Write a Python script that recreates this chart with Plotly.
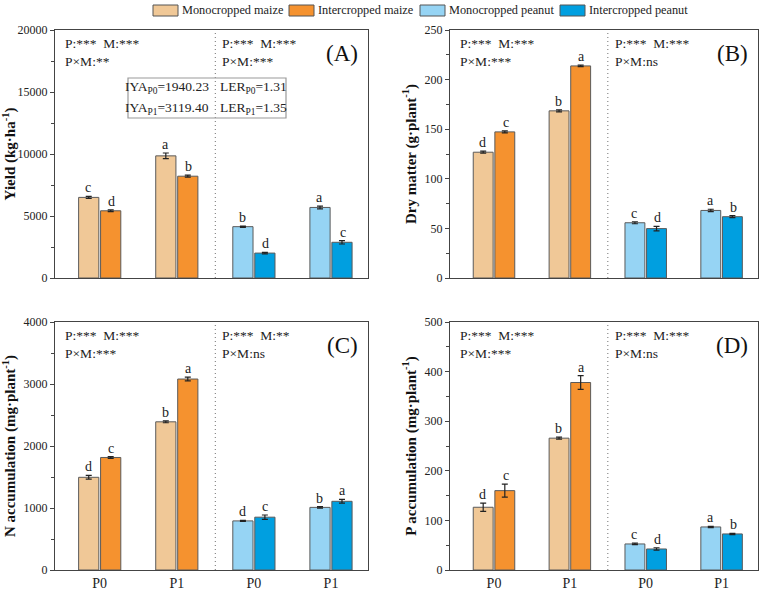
import plotly.graph_objects as go

# ---------------- data ----------------
series_names = ["Monocropped maize", "Intercropped maize", "Monocropped peanut", "Intercropped peanut"]
series_colors = ["#F0C897", "#F5922F", "#96D4F4", "#009FE0"]
tick_labels = ["P0", "P1", "P0", "P1"]
maize_x = [0, 1]
peanut_x = [2, 3]

# Panel A: Yield
yield_mono_maize = [6500, 9850]
yield_inter_maize = [5420, 8210]
yield_mono_peanut = [4140, 5690]
yield_inter_peanut = [2010, 2880]
yield_err = [[90, 230], [70, 80], [50, 110], [60, 140]]
yield_letters = [["c", "a"], ["d", "b"], ["b", "a"], ["d", "c"]]

# Panel B: Dry matter
dm_mono_maize = [126.8, 168.5]
dm_inter_maize = [147.3, 213.8]
dm_mono_peanut = [55.7, 68.1]
dm_inter_peanut = [49.8, 61.8]
dm_err = [[1.0, 1.0], [1.0, 0.8], [1.0, 1.2], [2.2, 1.0]]
dm_letters = [["d", "b"], ["c", "a"], ["c", "a"], ["d", "b"]]

# Panel C: N accumulation
n_mono_maize = [1495, 2390]
n_inter_maize = [1815, 3080]
n_mono_peanut = [792, 1010]
n_inter_peanut = [852, 1108]
n_err = [[30, 15], [15, 30], [10, 12], [35, 30]]
n_letters = [["d", "b"], ["c", "a"], ["d", "b"], ["c", "a"]]

# Panel D: P accumulation
p_mono_maize = [126.5, 265.8]
p_inter_maize = [160.0, 378.0]
p_mono_peanut = [52.5, 86.8]
p_inter_peanut = [42.4, 72.7]
p_err = [[8.5, 2.0], [13.0, 14.0], [1.5, 1.2], [2.5, 1.2]]
p_letters = [["d", "b"], ["c", "a"], ["c", "a"], ["d", "b"]]

panels = [
    dict(vals=[yield_mono_maize, yield_inter_maize, yield_mono_peanut, yield_inter_peanut],
         err=yield_err, letters=yield_letters, ymax=20000, dtick=5000,
         ytitle="Yield (kg·ha<sup>-1</sup>)", label="(A)",
         stats_l="P:***  M:***<br>P×M:**", stats_r="P:***  M:***<br>P×M:***"),
    dict(vals=[dm_mono_maize, dm_inter_maize, dm_mono_peanut, dm_inter_peanut],
         err=dm_err, letters=dm_letters, ymax=250, dtick=50,
         ytitle="Dry matter (g·plant<sup>-1</sup>)", label="(B)",
         stats_l="P:***  M:***<br>P×M:***", stats_r="P:***  M:***<br>P×M:ns"),
    dict(vals=[n_mono_maize, n_inter_maize, n_mono_peanut, n_inter_peanut],
         err=n_err, letters=n_letters, ymax=4000, dtick=1000,
         ytitle="N accumulation (mg·plant<sup>-1</sup>)", label="(C)",
         stats_l="P:***  M:***<br>P×M:***", stats_r="P:***  M:**<br>P×M:ns"),
    dict(vals=[p_mono_maize, p_inter_maize, p_mono_peanut, p_inter_peanut],
         err=p_err, letters=p_letters, ymax=500, dtick=100,
         ytitle="P accumulation (mg·plant<sup>-1</sup>)", label="(D)",
         stats_l="P:***  M:***<br>P×M:***", stats_r="P:***  M:***<br>P×M:ns"),
]

IYA_text = ["IYA<sub>P0</sub>=1940.23", "IYA<sub>P1</sub>=3119.40"]
LER_text = ["LER<sub>P0</sub>=1.31", "LER<sub>P1</sub>=1.35"]

# ---------------- layout geometry ----------------
W, H = 767, 590
FONT = "Times New Roman, Liberation Serif, serif"
xdomains = [(55 / W, 368 / W), (450 / W, 758 / W), (55 / W, 368 / W), (450 / W, 758 / W)]
ydomains = [((H - 278) / H, (H - 30) / H), ((H - 278) / H, (H - 30) / H),
            ((H - 570) / H, (H - 322) / H), ((H - 570) / H, (H - 322) / H)]
XR = [-0.58, 3.48]

fig = go.Figure()
annotations = []
shapes = []

for i, p in enumerate(panels):
    ax = "" if i == 0 else str(i + 1)
    xref, yref = "x" + ax, "y" + ax
    for s in range(4):
        xs = maize_x if s < 2 else peanut_x
        fig.add_trace(go.Bar(
            x=xs, y=p["vals"][s], name=series_names[s],
            marker=dict(color=series_colors[s], line=dict(color="#5a5a5a", width=1)),
            error_y=dict(type="data", array=p["err"][s], color="#222222", thickness=1.2, width=3),
            offsetgroup="mono" if s % 2 == 0 else "inter",
            xaxis=xref, yaxis=yref, showlegend=False,
        ))
        for k in range(2):
            top = p["vals"][s][k] + p["err"][s][k]
            annotations.append(dict(
                x=xs[k], y=top, xref=xref, yref=yref, text=p["letters"][s][k],
                showarrow=False, yanchor="bottom", yshift=-1,
                xshift=-11.5 if s % 2 == 0 else 11.5,
                font=dict(family=FONT, size=14, color="#222")))
    bottom = i >= 2
    fig.layout["xaxis" + ax] = dict(
        domain=xdomains[i], anchor=yref, range=XR, automargin=False,
        tickvals=[0, 1, 2, 3], ticktext=tick_labels if bottom else ["", "", "", ""],
        showticklabels=bottom, ticks="", showgrid=False, zeroline=False,
        showline=True, linecolor="#444", linewidth=1.2, mirror=True,
        tickfont=dict(family=FONT, size=14, color="#222"))
    fig.layout["yaxis" + ax] = dict(
        domain=ydomains[i], anchor=xref, range=[0, p["ymax"]], dtick=p["dtick"],
        tickformat="d", automargin=False,
        ticks="outside", ticklen=4, tickwidth=1, tickcolor="#444",
        minor=dict(dtick=p["dtick"] / 2, ticks="outside", ticklen=3, tickcolor="#444"),
        showgrid=False, zeroline=False,
        showline=True, linecolor="#444", linewidth=1.2, mirror=True,
        tickfont=dict(family=FONT, size=12, color="#222"),
        title=dict(text="<b>" + p["ytitle"] + "</b>", standoff=4,
                   font=dict(family=FONT, size=15, color="#111")))
    # divider
    shapes.append(dict(type="line", xref=xref, yref=yref + " domain", x0=1.5, x1=1.5, y0=0, y1=1,
                       line=dict(color="#888", width=1.2, dash="1px,3px")))
    # stats text
    annotations.append(dict(xref=xref + " domain", yref=yref + " domain", x=0.025, y=0.985,
                            xanchor="left", yanchor="top", align="left", showarrow=False,
                            text=p["stats_l"], font=dict(family=FONT, size=13.5, color="#222")))
    annotations.append(dict(xref=xref, yref=yref + " domain", x=1.5, y=0.985, xshift=5,
                            xanchor="left", yanchor="top", align="left", showarrow=False,
                            text=p["stats_r"], font=dict(family=FONT, size=13.5, color="#222")))
    annotations.append(dict(xref=xref + " domain", yref=yref + " domain", x=0.975, y=0.965,
                            xanchor="right", yanchor="top", showarrow=False,
                            text=p["label"], font=dict(family=FONT, size=23, color="#111")))

# IYA / LER box in panel A
shapes.append(dict(type="rect", xref="paper", yref="paper",
                   x0=128 / W, x1=286 / W, y0=(H - 118) / H, y1=(H - 78) / H,
                   line=dict(color="#999", width=1.2), fillcolor="rgba(0,0,0,0)"))
for r in range(2):
    yy = (H - (88 + r * 20)) / H
    annotations.append(dict(xref="paper", yref="paper", x=211 / W, y=yy, showarrow=False,
                            xanchor="right", yanchor="middle",
                            text=IYA_text[r], font=dict(family=FONT, size=13.5, color="#222")))
    annotations.append(dict(xref="paper", yref="paper", x=218 / W, y=yy, showarrow=False,
                            xanchor="left", yanchor="middle",
                            text=LER_text[r], font=dict(family=FONT, size=13.5, color="#222")))

# manual legend
legend_x = [153, 289, 420, 560]
for s in range(4):
    x0 = legend_x[s]
    shapes.append(dict(type="rect", xref="paper", yref="paper",
                       x0=x0 / W, x1=(x0 + 25) / W, y0=(H - 16) / H, y1=(H - 5) / H,
                       fillcolor=series_colors[s], line=dict(color="#555", width=1)))
    annotations.append(dict(xref="paper", yref="paper", x=(x0 + 27) / W, y=(H - 10.5) / H,
                            xanchor="left", yanchor="middle", showarrow=False, text=series_names[s],
                            font=dict(family=FONT, size=12.3, color="#222")))

fig.update_layout(
    width=W, height=H, margin=dict(l=0, r=0, t=0, b=0, pad=0, autoexpand=False),
    paper_bgcolor="white", plot_bgcolor="white",
    barmode="group", bargap=0.43, bargroupgap=0.08,
    annotations=annotations, shapes=shapes,
    font=dict(family=FONT),
)

fig.write_html("out.html")
